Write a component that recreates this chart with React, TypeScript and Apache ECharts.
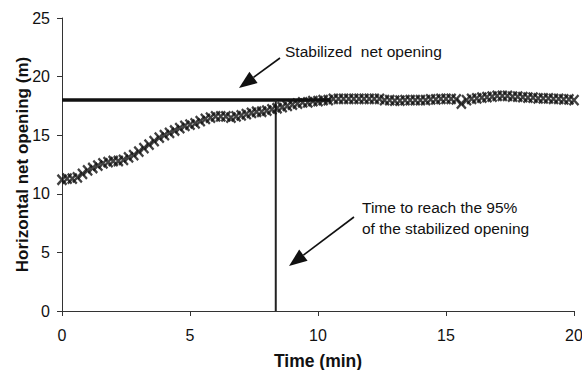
import React, { useEffect, useRef } from "react";
import * as echarts from "echarts";

const times: number[] = [
  0, 0.2, 0.4, 0.6, 0.8, 1, 1.2, 1.4, 1.6, 1.8, 2, 2.2, 2.4, 2.6, 2.8, 3, 3.2, 3.4, 3.6, 3.8,
  4, 4.2, 4.4, 4.6, 4.8, 5, 5.2, 5.4, 5.6, 5.8, 6, 6.2, 6.4, 6.6, 6.8, 7, 7.2, 7.4, 7.6, 7.8,
  8, 8.2, 8.4, 8.6, 8.8, 9, 9.2, 9.4, 9.6, 9.8, 10, 10.2, 10.4, 10.6, 10.8, 11, 11.2, 11.4, 11.6, 11.8,
  12, 12.2, 12.4, 12.6, 12.8, 13, 13.2, 13.4, 13.6, 13.8, 14, 14.2, 14.4, 14.6, 14.8, 15, 15.2, 15.4, 15.6, 15.8,
  16, 16.2, 16.4, 16.6, 16.8, 17, 17.2, 17.4, 17.6, 17.8, 18, 18.2, 18.4, 18.6, 18.8, 19, 19.2, 19.4, 19.6, 19.8, 20,
];

const opening: number[] = [
  11.2, 11.3, 11.3, 11.4, 11.7, 12.0, 12.2, 12.4, 12.6, 12.7, 12.8, 12.8, 12.9, 13.1, 13.3, 13.6, 13.9, 14.2, 14.5, 14.8,
  15.0, 15.2, 15.4, 15.6, 15.8, 15.9, 16.0, 16.2, 16.4, 16.5, 16.6, 16.6, 16.6, 16.5, 16.6, 16.7, 16.8, 16.9, 17.0, 17.0,
  17.1, 17.2, 17.3, 17.4, 17.5, 17.6, 17.7, 17.8, 17.8, 17.9, 17.9, 18.0, 18.0, 18.1, 18.1, 18.1, 18.1, 18.1, 18.1, 18.1,
  18.1, 18.1, 18.1, 18.0, 18.0, 17.95, 17.95, 18.0, 18.0, 18.0, 18.0, 18.0, 18.05, 18.05, 18.1, 18.1, 18.1, 18.05, 17.7, 18.0,
  18.1, 18.15, 18.2, 18.25, 18.3, 18.35, 18.35, 18.35, 18.3, 18.3, 18.25, 18.2, 18.2, 18.15, 18.15, 18.15, 18.1, 18.1, 18.05, 18.05, 18.0,
];

const stabilizedOpening = 18;
const stabilizedLineEnd = 10.5;
const time95 = 8.35;

const xTicks = [0, 5, 10, 15, 20];
const yTicks = [0, 5, 10, 15, 20, 25];

const FONT = "Arial, 'Liberation Sans', sans-serif";

export default function App() {
  const ref = useRef<HTMLDivElement>(null);
  useEffect(() => {
    document.body.style.margin = "0";
    if (!ref.current) return;
    const chart = echarts.init(ref.current, undefined, { renderer: "svg" });
    const points = times.map((t, i) => [t, opening[i]]);
    const axisCommon = {
      axisLine: { show: true, lineStyle: { color: "#333", width: 1 } },
      axisTick: { show: true, inside: false, length: 5, lineStyle: { color: "#333" } },
      splitLine: { show: false },
      axisLabel: { color: "#111", fontSize: 16, fontFamily: FONT },
      nameTextStyle: { color: "#111", fontSize: 17.5, fontWeight: "bold", fontFamily: FONT },
      nameMoveOverlap: false,
    };
    chart.setOption({
      animation: false,
      backgroundColor: "#fff",
      grid: { left: 62, right: 8, top: 18, bottom: 59, containLabel: false, outerBoundsMode: "none" },
      xAxis: {
        type: "value",
        min: xTicks[0],
        max: xTicks[xTicks.length - 1],
        interval: 5,
        name: "Time (min)",
        nameLocation: "middle",
        nameGap: 41,
        ...axisCommon,
        axisLabel: { ...axisCommon.axisLabel, margin: 16 },
      },
      yAxis: {
        type: "value",
        min: yTicks[0],
        max: yTicks[yTicks.length - 1],
        interval: 5,
        name: "Horizontal net opening (m)",
        nameLocation: "middle",
        nameGap: 31,
        ...axisCommon,
        axisLabel: { ...axisCommon.axisLabel, margin: 12 },
        nameTextStyle: { ...axisCommon.nameTextStyle, fontSize: 17 },
      },
      series: [
        {
          type: "line",
          data: [
            [0, stabilizedOpening],
            [stabilizedLineEnd, stabilizedOpening],
          ],
          symbol: "none",
          lineStyle: { color: "#111", width: 3.5 },
          z: 3,
        },
        {
          type: "line",
          data: [
            [time95, 0],
            [time95, stabilizedOpening],
          ],
          symbol: "none",
          lineStyle: { color: "#222", width: 2 },
          z: 3,
        },
        {
          type: "scatter",
          data: points,
          symbol: "path://M0,0L10,10M10,0L0,10",
          symbolSize: [9, 10],
          itemStyle: { color: "none", borderColor: "#111", borderWidth: 2.4 },
          z: 4,
        },
      ],
      graphic: [
        {
          type: "text",
          left: 285,
          top: 43,
          style: { text: "Stabilized  net opening", fontSize: 15.5, fontFamily: FONT, fill: "#111" },
        },
        {
          type: "line",
          shape: { x1: 280, y1: 58, x2: 253.5, y2: 77.4 },
          style: { stroke: "#111", lineWidth: 1.6 },
        },
        {
          type: "polygon",
          shape: { points: [[239, 88], [257.6, 83.0], [249.4, 71.8]] },
          style: { fill: "#111" },
        },
        {
          type: "text",
          left: 362,
          top: 197,
          style: {
            text: "Time to reach the 95%\nof the stabilized opening",
            fontSize: 15.5,
            lineHeight: 21,
            fontFamily: FONT,
            fill: "#111",
          },
        },
        {
          type: "line",
          shape: { x1: 354, y1: 217, x2: 303.4, y2: 255.2 },
          style: { stroke: "#111", lineWidth: 1.6 },
        },
        {
          type: "polygon",
          shape: { points: [[289, 266], [307.6, 260.8], [299.2, 249.6]] },
          style: { fill: "#111" },
        },
      ],
    });
    return () => chart.dispose();
  }, []);
  return <div ref={ref} style={{ width: 582, height: 370 }} />;
}
